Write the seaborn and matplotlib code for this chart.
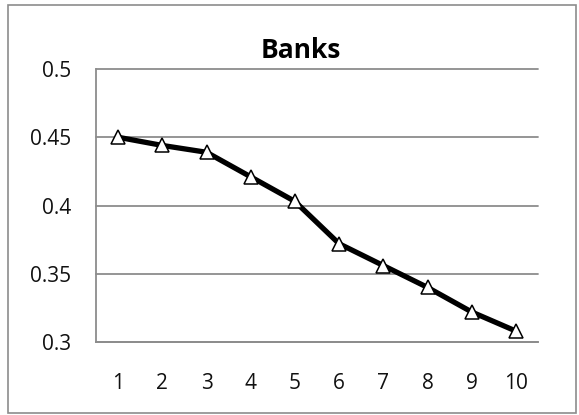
import matplotlib
matplotlib.use("Agg")
import matplotlib.pyplot as plt
import seaborn as sns
import pandas as pd
from matplotlib.patches import Rectangle

# Series data
periods = [1, 2, 3, 4, 5, 6, 7, 8, 9, 10]
values = [0.450, 0.444, 0.439, 0.421, 0.403, 0.372, 0.356, 0.340, 0.322, 0.308]
y_ticks = [0.3, 0.35, 0.4, 0.45, 0.5]
y_tick_labels = ["0.3", "0.35", "0.4", "0.45", "0.5"]
title = "Banks"

sns.set_style("white")
plt.rcParams["font.family"] = ["Open Sans", "DejaVu Sans"]

df = pd.DataFrame({"period": [str(p) for p in periods], "value": values})

W, H, DPI = 579, 415, 100
fig = plt.figure(figsize=(W / DPI, H / DPI), dpi=DPI)
fig.patch.set_facecolor("white")

# outer chart border
fig.patches.append(Rectangle((8 / W, 1 - 413 / H), (576 - 8) / W, (413 - 5) / H,
                             transform=fig.transFigure, fill=False,
                             edgecolor="#8c8c8c", linewidth=1.2))

left, right, top, bottom = 96, 538, 69, 342
ax = fig.add_axes([left / W, 1 - bottom / H, (right - left) / W, (bottom - top) / H])

ax.set_xlim(-0.5, len(periods) - 0.5)
ax.set_ylim(0.3, 0.5)
ax.set_yticks(y_ticks)
ax.set_yticklabels(y_tick_labels)
for y in y_ticks:
    ax.axhline(y, color="#8c8c8c", linewidth=1.3, zorder=0, clip_on=False)

sns.lineplot(data=df, x="period", y="value", sort=False, ax=ax, color="black",
             linewidth=3.8, marker="^", markersize=10, markerfacecolor="white",
             markeredgecolor="black", markeredgewidth=1.1, zorder=3, clip_on=False)

ax.set_xlabel("")
ax.set_ylabel("")
for side in ["top", "right"]:
    ax.spines[side].set_visible(False)
ax.spines["left"].set_color("#8c8c8c")
ax.spines["bottom"].set_color("#8c8c8c")
ax.spines["left"].set_linewidth(1.3)
ax.spines["bottom"].set_linewidth(1.3)

ax.set_xticks([i - 0.5 for i in range(len(periods) + 1)], minor=True)
ax.set_xticks(range(len(periods)))
ax.set_xticklabels([str(p) for p in periods])
ax.tick_params(axis="x", which="major", length=0, pad=22, labelsize=15, colors="#111111")
ax.tick_params(axis="x", which="minor", length=6, width=1.3, color="#8c8c8c", direction="out")
ax.tick_params(axis="y", which="major", length=6, width=1.3, color="#8c8c8c",
               direction="out", pad=12, labelsize=15, labelcolor="#111111")

fig.text(301 / W, 1 - 50 / H, title, ha="center", va="center",
         fontsize=19, fontweight="bold", color="black")

fig.savefig("out.png", dpi=DPI, facecolor="white")
